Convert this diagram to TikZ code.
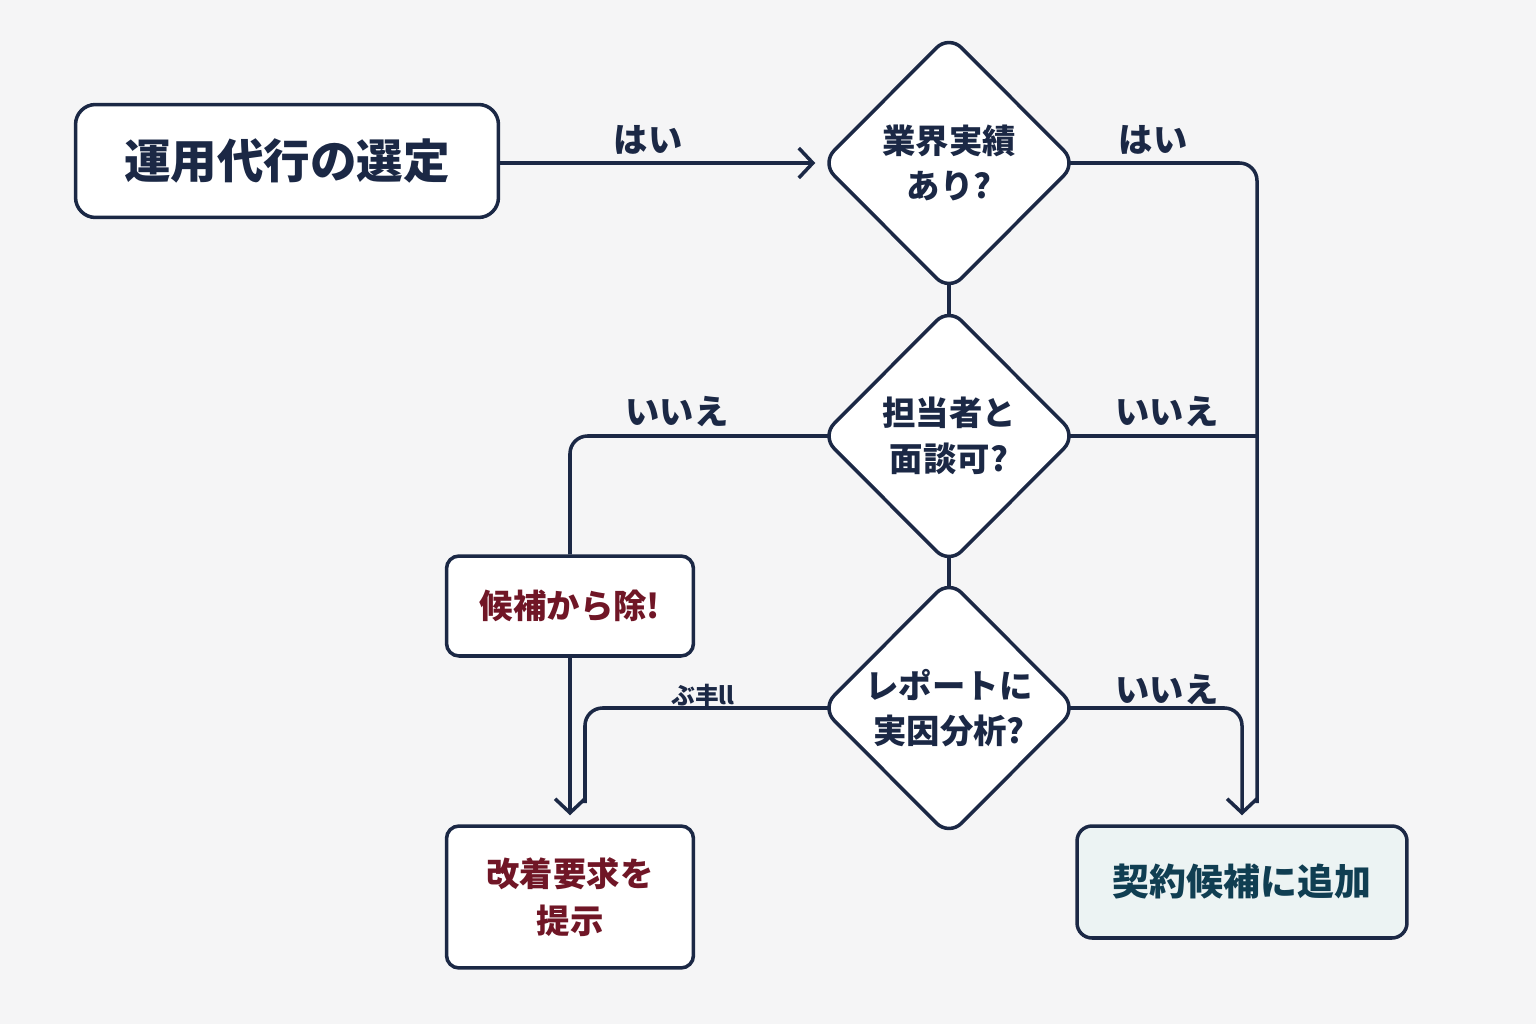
\documentclass[tikz,border=0pt]{standalone}
\usepackage{fontspec}
\setmainfont{Noto Sans CJK JP}
\usetikzlibrary{shapes.geometric,arrows.meta,positioning,backgrounds}
\definecolor{navy}{RGB}{27,40,69}
\definecolor{bgcol}{RGB}{245,245,246}
\definecolor{redtxt}{RGB}{112,22,38}
\definecolor{tealtxt}{RGB}{16,62,82}
\definecolor{tealfill}{RGB}{236,243,243}
\begin{document}
\begin{tikzpicture}[
    x=0.02cm, y=-0.02cm,
    >={Straight Barb[length=8pt,width=17pt]},
    startbox/.style={draw=navy, fill=white, line width=2pt, rounded corners=0.4cm,
                     minimum width=8.46cm, minimum height=2.26cm,
                     font=\fontsize{26.5}{30}\selectfont\bfseries, text=navy},
    decision/.style={diamond, draw=navy, fill=white, line width=2pt, rounded corners=10pt,
                     minimum width=5.12cm, minimum height=5.14cm, inner sep=0pt, aspect=1,
                     align=center, font=\fontsize{19}{26}\selectfont\bfseries, text=navy},
    redbox/.style={draw=navy, fill=white, line width=2pt, rounded corners=0.25cm,
                   minimum width=4.94cm, align=center,
                   font=\fontsize{19}{27}\selectfont\bfseries, text=redtxt},
    addbox/.style={draw=navy, fill=tealfill, line width=2pt, rounded corners=0.3cm,
                   minimum width=6.6cm, minimum height=2.24cm,
                   font=\fontsize{21}{26}\selectfont\bfseries, text=tealtxt},
    conn/.style={draw=navy, line width=2pt, rounded corners=10pt},
    arr/.style={conn, ->},
    lbl/.style={font=\fontsize{19.5}{21}\selectfont\bfseries, text=navy},
]
\useasboundingbox (0,0) rectangle (1536,1024);

% ===== nodes =====
\node[startbox] (start) at (287,161) {運用代行の選定};
\node[decision] (d1) at (949,163) {業界実績\\あり?};
\node[decision] (d2) at (949,436) {担当者と\\面談可?};
\node[decision] (d3) at (949,708) {レポートに\\実因分析?};
\node[redbox, minimum height=2.0cm] (excl) at (570,606) {候補から除!};
\node[redbox, minimum height=2.84cm] (req) at (570,897) {改着要求を\\提示};
\node[addbox] (add) at (1242,882) {契約候補に追加};

\coordinate (j1) at (1257,803);
\coordinate (j2) at (585,803);

% ===== connectors (behind the shapes) =====
\begin{pgfonlayer}{background}
\fill[bgcol] (0,0) rectangle (1536,1024);
\draw[arr, shorten >=0.08cm] (start.east |- d1) -- (d1.west);

\draw[conn] (d1.center) -- (d2.center);
\draw[conn] (d2.center) -- (d3.center);

\draw[conn] (d1.center) -| (j1);
\draw[conn] (d2.center) -- (d2.center -| j1);
\draw[arr, shorten >=0.18cm] (d3.center) -| (add.north);

\draw[conn] (d2.center) -| (excl.north);
\draw[arr, shorten >=0.18cm] (excl.south) -- (req.north);
\draw[conn] (d3.center) -| (j2);
\end{pgfonlayer}

% ===== labels =====
\node[lbl] (yes1) at (648,140) {はい};
\node[lbl] (yes2) at (1153,140) {はい};
\node[lbl] (no1) at (677,412) {いいえ};
\node[lbl] (no2) at (1167,412) {いいえ};
\node[lbl] (no3) at (1167,690) {いいえ};
\node[lbl, font=\fontsize{13.5}{15}\selectfont\bfseries] (odd) at (703,695) {ぶ丰ll};

\end{tikzpicture}
\end{document}
